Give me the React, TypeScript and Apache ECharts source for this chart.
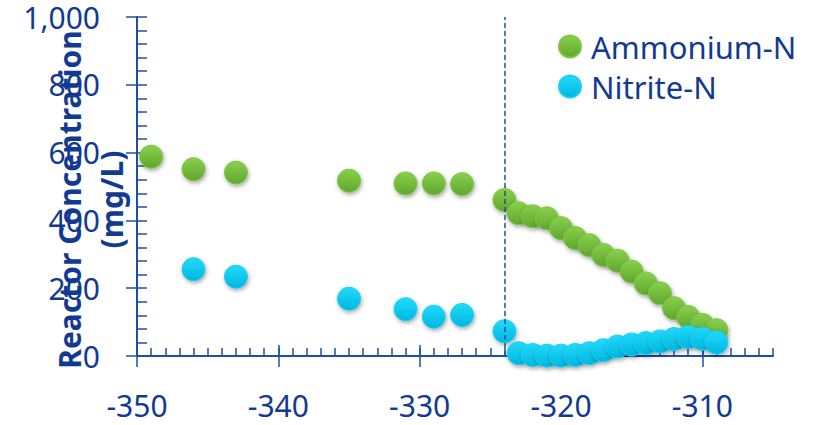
import React, { useEffect, useRef } from "react";
import * as echarts from "echarts";

// ---- data ----
const ammoniumX = [-349, -346, -343, -335, -331, -329, -327, -324, -323, -322, -321, -320, -319, -318, -317, -316, -315, -314, -313, -312, -311, -310, -309];
const ammoniumY = [588, 551, 541, 517, 509, 509, 507, 460, 421, 412, 406, 377, 348, 327, 298, 281, 249, 214, 185, 141, 115, 92, 76];

const nitriteX = [-346, -343, -335, -331, -329, -327, -324, -323, -322, -321, -320, -319, -318, -317, -316, -315, -314, -313, -312, -311, -310, -309];
const nitriteY = [256, 234, 169, 138, 116, 121, 73, 8, 3, 1, 1, 3, 8, 17, 28, 34, 38, 43, 50, 56, 51, 40];

const seriesNames = ["Ammonium-N", "Nitrite-N"];
const xTicks = [-350, -340, -330, -320, -310];
const yTicks = [0, 200, 400, 600, 800, 1000];
const xRange = [-350, -305];
const yRange = [0, 1000];
const eventX = -324;
const yAxisTitle = "Reactor Concentration\n(mg/L)";

const AXIS = "#1C4FA5";
const TEXT = "#123A92";
const FONT = "Noto Sans";

export default function App() {
  const ref = useRef<HTMLDivElement>(null);

  useEffect(() => {
    if (!ref.current) return;
    const chart = echarts.init(ref.current, undefined, { renderer: "svg" });

    const grid = { left: 137, right: 41, top: 17, bottom: 69, containLabel: false, outerBoundsMode: "none" };
    const green = new echarts.graphic.LinearGradient(0, 0, 0, 1, [
      { offset: 0, color: "#8AD04C" },
      { offset: 1, color: "#5FA72F" },
    ]);
    const cyan = new echarts.graphic.LinearGradient(0, 0, 0, 1, [
      { offset: 0, color: "#22DAFB" },
      { offset: 1, color: "#00B6E0" },
    ]);
    const shadow = { shadowBlur: 4, shadowOffsetX: 1, shadowOffsetY: 2, shadowColor: "rgba(0,0,0,0.35)" };

    const option: any = {
      animation: false,
      grid: [grid, { ...grid }, { ...grid }],
      legend: {
        data: seriesNames,
        orient: "vertical",
        left: 558,
        top: 28,
        padding: 0,
        itemGap: 3,
        itemWidth: 22,
        itemHeight: 22,
        icon: "circle",
        textStyle: { fontFamily: FONT, fontSize: 31, color: TEXT, lineHeight: 30, padding: [7, 0, 0, 5] },
      },
      xAxis: [
        {
          gridIndex: 0,
          type: "value",
          min: xRange[0],
          max: xRange[1],
          interval: 10,
          axisLine: { show: true, onZero: false, lineStyle: { color: AXIS, width: 2 } },
          axisTick: { show: true, inside: false, length: 11, customValues: xTicks, lineStyle: { color: AXIS, width: 1.5 } },
          axisLabel: {
            customValues: xTicks,
            margin: 34,
            fontFamily: FONT,
            fontSize: 30,
            lineHeight: 30,
            color: TEXT,
            hideOverlap: false,
          },
          splitLine: { show: false },
        },
        {
          gridIndex: 1,
          type: "value",
          min: xRange[0],
          max: xRange[1],
          interval: 1,
          axisLine: { show: false },
          axisTick: { show: true, inside: true, length: 8, lineStyle: { color: AXIS, width: 1.5 } },
          axisLabel: { show: false },
          splitLine: { show: false },
        },
        {
          gridIndex: 2,
          type: "value",
          min: xRange[0],
          max: xRange[1],
          interval: 10,
          axisLine: { show: false },
          axisTick: { show: true, inside: true, length: 11, customValues: xTicks, lineStyle: { color: AXIS, width: 1.5 } },
          axisLabel: { show: false },
          splitLine: { show: false },
        },
      ],
      yAxis: [
        {
          gridIndex: 0,
          type: "value",
          min: yRange[0],
          max: yRange[1],
          interval: 200,
          name: yAxisTitle,
          nameLocation: "middle",
          nameGap: 5,
          nameMoveOverlap: false,
          nameTextStyle: {
            fontFamily: FONT,
            fontSize: 30,
            fontWeight: "bold",
            color: TEXT,
            lineHeight: 42,
            padding: [0, 26, 0, 0],
          },
          axisLine: { show: true, onZero: false, lineStyle: { color: AXIS, width: 2 } },
          axisTick: { show: true, inside: false, length: 11, customValues: yTicks, lineStyle: { color: AXIS, width: 1.5 } },
          axisLabel: {
            customValues: yTicks,
            margin: 37,
            fontFamily: FONT,
            fontSize: 30,
            lineHeight: 30,
            padding: [5, 0, 0, 0],
            color: TEXT,
            hideOverlap: false,
            formatter: (v: number) => v.toLocaleString("en-US"),
          },
          splitLine: { show: false },
        },
        {
          gridIndex: 1,
          type: "value",
          min: yRange[0],
          max: yRange[1],
          interval: 40,
          axisLine: { show: false },
          axisTick: { show: true, inside: true, length: 10, lineStyle: { color: AXIS, width: 1.5 } },
          axisLabel: { show: false },
          splitLine: { show: false },
        },
        {
          gridIndex: 2,
          type: "value",
          min: yRange[0],
          max: yRange[1],
          interval: 200,
          axisLine: { show: false },
          axisTick: { show: false },
          axisLabel: { show: false },
          splitLine: { show: false },
        },
      ],
      series: [
        {
          name: seriesNames[0],
          type: "scatter",
          xAxisIndex: 0,
          yAxisIndex: 0,
          symbol: "circle",
          symbolSize: 23,
          data: ammoniumX.map((x, i) => [x, ammoniumY[i]]),
          itemStyle: { color: green, borderColor: "#7EC544", borderWidth: 1, opacity: 1, ...shadow },
          emphasis: { disabled: true },
          markLine: {
            silent: true,
            symbol: "none",
            label: { show: false },
            lineStyle: { color: AXIS, width: 1.5, type: [5, 3] },
            data: [{ xAxis: eventX }],
          },
        },
        {
          name: seriesNames[1],
          type: "scatter",
          xAxisIndex: 0,
          yAxisIndex: 0,
          symbol: "circle",
          symbolSize: 23,
          data: nitriteX.map((x, i) => [x, nitriteY[i]]),
          itemStyle: { color: cyan, borderColor: "#18CFF3", borderWidth: 1, opacity: 1, ...shadow },
          emphasis: { disabled: true },
        },
      ],
    };

    chart.setOption(option);
    return () => chart.dispose();
  }, []);

  return (
    <div
      ref={ref}
      style={{ position: "fixed", left: 0, top: 0, width: 814, height: 425, background: "#fff" }}
    />
  );
}
